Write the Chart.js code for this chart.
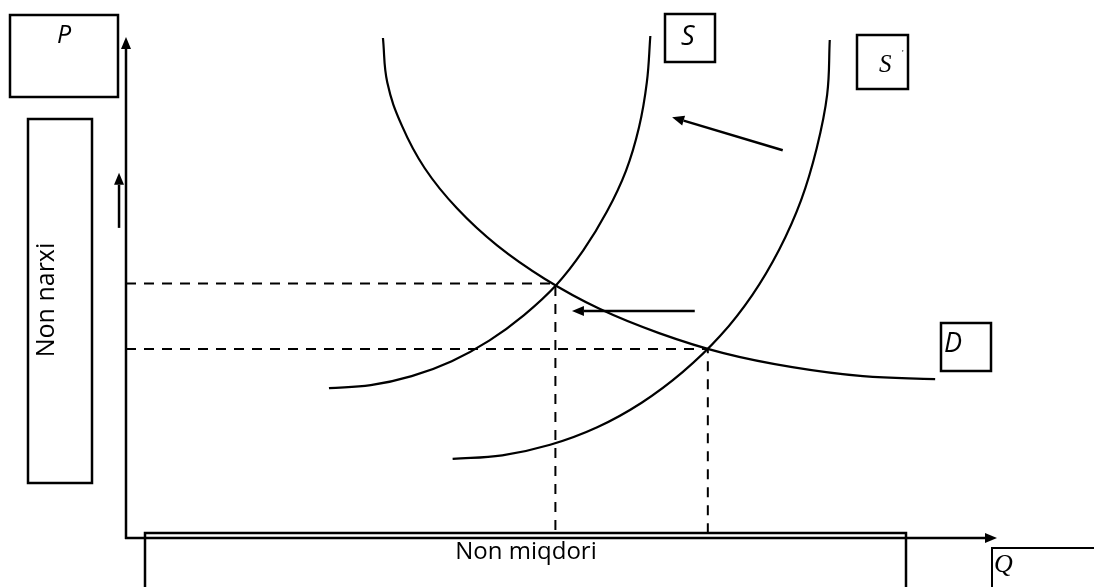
<!DOCTYPE html>
<html>
<head>
<meta charset="utf-8">
<title>Non bozori</title>
<script src="https://cdn.jsdelivr.net/npm/chart.js@4.4.1/dist/chart.umd.min.js"></script>
<style>
    body { margin: 0; background: #fff; }
    #wrap { position: relative; width: 1094px; height: 587px; }
</style>
</head>
<body>
<div id="wrap"><canvas id="marketChart" width="1094" height="587"></canvas></div>
<script>
// Curves (Q on x, P on y, both 0..100)
const demandCurve = [
    { x: 29.5, y: 99.8 }, { x: 30.0, y: 90.9 }, { x: 31.7, y: 82.2 },
    { x: 34.3, y: 73.8 }, { x: 38.0, y: 65.8 }, { x: 42.6, y: 58.4 },
    { x: 48.1, y: 51.7 }, { x: 54.3, y: 45.8 }, { x: 61.2, y: 40.9 },
    { x: 68.6, y: 36.9 }, { x: 76.5, y: 34.1 }, { x: 84.6, y: 32.3 },
    { x: 92.9, y: 31.7 }
];
const supplyCurve = [
    { x: 23.3, y: 29.9 }, { x: 28.1, y: 30.5 }, { x: 32.8, y: 32.3 },
    { x: 37.4, y: 35.3 }, { x: 41.7, y: 39.4 }, { x: 45.7, y: 44.5 },
    { x: 49.4, y: 50.5 }, { x: 52.5, y: 57.4 }, { x: 55.2, y: 65.1 },
    { x: 57.4, y: 73.3 }, { x: 58.9, y: 82.0 }, { x: 59.8, y: 91.0 },
    { x: 60.2, y: 100.2 }
];
const supplyShifted = [
    { x: 37.5, y: 15.8 }, { x: 43.2, y: 16.5 }, { x: 48.7, y: 18.6 },
    { x: 54.1, y: 22.1 }, { x: 59.2, y: 27.0 }, { x: 63.9, y: 33.1 },
    { x: 68.2, y: 40.3 }, { x: 71.9, y: 48.5 }, { x: 75.0, y: 57.6 },
    { x: 77.5, y: 67.4 }, { x: 79.3, y: 77.8 }, { x: 80.5, y: 88.5 },
    { x: 80.8, y: 99.4 }
];
// equilibrium points: S with D, S' with D
const equilibrium = [{ x: 49.3, y: 50.8 }, { x: 66.8, y: 37.7 }];

// shift arrows [x1, y1, x2, y2]
const shiftArrows = [
    [75.4, 77.4, 62.7, 84.0],
    [65.3, 45.3, 51.2, 45.3],
    [-0.8, 61.9, -0.8, 72.9]
];

const priceLabel = 'P';
const priceTitle = 'Non narxi';
const qtyLabel = 'Q';
const qtyTitle = 'Non miqdori';
const curveLabels = ['S', 'S', 'D'];

function guideLine(p) {
    return [{ x: 0, y: p.y }, { x: p.x, y: p.y }, { x: p.x, y: 0 }];
}

function arrow(ctx, x1, y1, x2, y2, lw) {
    const a = Math.atan2(y2 - y1, x2 - x1);
    const len = 12, half = 5;
    const bx = x2 - len * Math.cos(a), by = y2 - len * Math.sin(a);
    ctx.lineWidth = lw;
    ctx.beginPath();
    ctx.moveTo(x1, y1);
    ctx.lineTo(bx, by);
    ctx.stroke();
    ctx.beginPath();
    ctx.moveTo(x2, y2);
    ctx.lineTo(bx + half * Math.sin(a), by - half * Math.cos(a));
    ctx.lineTo(bx - half * Math.sin(a), by + half * Math.cos(a));
    ctx.closePath();
    ctx.fill();
}

function box(ctx, x, y, w, h, lw) {
    ctx.lineWidth = lw || 2.5;
    ctx.strokeRect(x, y, w, h);
}

const diagramPlugin = {
    id: 'diagram',
    beforeDatasetsDraw(chart) {
        const { ctx, chartArea: a } = chart;
        ctx.save();
        ctx.strokeStyle = '#000';
        ctx.fillStyle = '#000';
        arrow(ctx, a.left, a.bottom + 1, a.left, a.top, 2.5);
        arrow(ctx, a.left - 1, a.bottom, a.right, a.bottom, 2.5);
        ctx.restore();
    },
    afterDraw(chart) {
        const { ctx, scales: { x, y } } = chart;
        ctx.save();
        ctx.strokeStyle = '#000';
        ctx.fillStyle = '#000';

        shiftArrows.forEach(s => {
            arrow(ctx, x.getPixelForValue(s[0]), y.getPixelForValue(s[1]),
                x.getPixelForValue(s[2]), y.getPixelForValue(s[3]), 2.5);
        });

        // label boxes
        box(ctx, 10, 15, 108, 82);
        box(ctx, 28, 119, 64, 364);
        box(ctx, 665, 14, 50, 48);
        box(ctx, 857, 35, 51, 54);
        box(ctx, 941, 323, 50, 48);
        box(ctx, 145, 533, 761, 70);
        box(ctx, 992, 548, 120, 60, 2);

        ctx.textAlign = 'left';
        ctx.textBaseline = 'alphabetic';
        ctx.font = 'italic 25px "Open Sans", sans-serif';
        ctx.fillText(priceLabel, 57, 43);
        ctx.font = 'italic 27px "Open Sans", sans-serif';
        ctx.fillText(curveLabels[0], 681, 45);
        ctx.fillText(curveLabels[2], 944, 352);

        ctx.font = 'italic 25px "Liberation Serif", serif';
        ctx.fillText(curveLabels[1], 879, 72);
        ctx.font = '9px "Liberation Serif", serif';
        ctx.fillText('\'', 902, 56);
        ctx.font = 'italic 26px "Liberation Serif", serif';
        ctx.fillText(qtyLabel, 994, 572);

        ctx.textAlign = 'center';
        ctx.font = '24px "Open Sans", sans-serif';
        ctx.fillText(qtyTitle, 526, 559);

        ctx.save();
        ctx.translate(54, 300);
        ctx.rotate(-Math.PI / 2);
        ctx.font = '25px "Open Sans", sans-serif';
        ctx.fillText(priceTitle, 0, 0);
        ctx.restore();

        ctx.restore();
    }
};

const curveStyle = {
    borderColor: '#000',
    borderWidth: 2.2,
    pointRadius: 0,
    tension: 0.4,
    showLine: true,
    clip: false
};
const guideStyle = {
    borderColor: '#000',
    borderWidth: 2,
    borderDash: [10, 8],
    pointRadius: 0,
    tension: 0,
    showLine: true,
    clip: false
};

new Chart(document.getElementById('marketChart'), {
    type: 'scatter',
    data: {
        datasets: [
            Object.assign({ label: 'D', data: demandCurve }, curveStyle),
            Object.assign({ label: 'S', data: supplyCurve }, curveStyle),
            Object.assign({ label: "S'", data: supplyShifted }, curveStyle),
            Object.assign({ label: 'E1', data: guideLine(equilibrium[0]) }, guideStyle),
            Object.assign({ label: 'E2', data: guideLine(equilibrium[1]) }, guideStyle)
        ]
    },
    options: {
        responsive: false,
        animation: false,
        devicePixelRatio: 1,
        layout: { padding: { left: 126, right: 97, top: 37, bottom: 49 } },
        scales: {
            x: { type: 'linear', min: 0, max: 100, display: false },
            y: { type: 'linear', min: 0, max: 100, display: false }
        },
        plugins: {
            legend: { display: false },
            tooltip: { enabled: false }
        }
    },
    plugins: [diagramPlugin]
});
</script>
</body>
</html>
